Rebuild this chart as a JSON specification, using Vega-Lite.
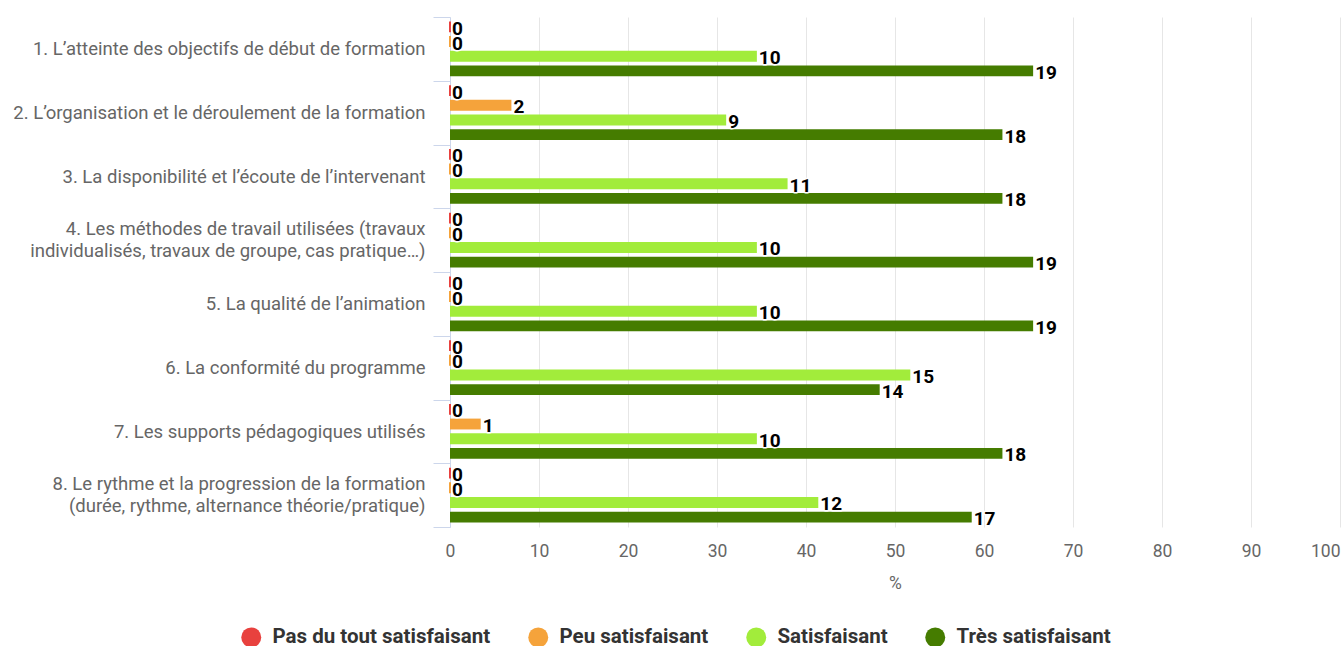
{
  "$schema": "https://vega.github.io/schema/vega-lite/v6.json",
  "autosize": "none",
  "width": 890,
  "height": 510,
  "padding": {"left": 450, "top": 17, "right": 2, "bottom": 119},
  "background": "#ffffff",
  "config": {
    "font": "Roboto",
    "view": {"stroke": null}
  },
  "data": {
    "values": [
      {"q": "1. L’atteinte des objectifs de début de formation", "series": "Pas du tout satisfaisant", "n": 0, "pct": 0},
      {"q": "1. L’atteinte des objectifs de début de formation", "series": "Peu satisfaisant", "n": 0, "pct": 0},
      {"q": "1. L’atteinte des objectifs de début de formation", "series": "Satisfaisant", "n": 10, "pct": 34.48},
      {"q": "1. L’atteinte des objectifs de début de formation", "series": "Très satisfaisant", "n": 19, "pct": 65.52},
      {"q": "2. L’organisation et le déroulement de la formation", "series": "Pas du tout satisfaisant", "n": 0, "pct": 0},
      {"q": "2. L’organisation et le déroulement de la formation", "series": "Peu satisfaisant", "n": 2, "pct": 6.9},
      {"q": "2. L’organisation et le déroulement de la formation", "series": "Satisfaisant", "n": 9, "pct": 31.03},
      {"q": "2. L’organisation et le déroulement de la formation", "series": "Très satisfaisant", "n": 18, "pct": 62.07},
      {"q": "3. La disponibilité et l’écoute de l’intervenant", "series": "Pas du tout satisfaisant", "n": 0, "pct": 0},
      {"q": "3. La disponibilité et l’écoute de l’intervenant", "series": "Peu satisfaisant", "n": 0, "pct": 0},
      {"q": "3. La disponibilité et l’écoute de l’intervenant", "series": "Satisfaisant", "n": 11, "pct": 37.93},
      {"q": "3. La disponibilité et l’écoute de l’intervenant", "series": "Très satisfaisant", "n": 18, "pct": 62.07},
      {"q": "4. Les méthodes de travail utilisées (travaux|individualisés, travaux de groupe, cas pratique…)", "series": "Pas du tout satisfaisant", "n": 0, "pct": 0},
      {"q": "4. Les méthodes de travail utilisées (travaux|individualisés, travaux de groupe, cas pratique…)", "series": "Peu satisfaisant", "n": 0, "pct": 0},
      {"q": "4. Les méthodes de travail utilisées (travaux|individualisés, travaux de groupe, cas pratique…)", "series": "Satisfaisant", "n": 10, "pct": 34.48},
      {"q": "4. Les méthodes de travail utilisées (travaux|individualisés, travaux de groupe, cas pratique…)", "series": "Très satisfaisant", "n": 19, "pct": 65.52},
      {"q": "5. La qualité de l’animation", "series": "Pas du tout satisfaisant", "n": 0, "pct": 0},
      {"q": "5. La qualité de l’animation", "series": "Peu satisfaisant", "n": 0, "pct": 0},
      {"q": "5. La qualité de l’animation", "series": "Satisfaisant", "n": 10, "pct": 34.48},
      {"q": "5. La qualité de l’animation", "series": "Très satisfaisant", "n": 19, "pct": 65.52},
      {"q": "6. La conformité du programme", "series": "Pas du tout satisfaisant", "n": 0, "pct": 0},
      {"q": "6. La conformité du programme", "series": "Peu satisfaisant", "n": 0, "pct": 0},
      {"q": "6. La conformité du programme", "series": "Satisfaisant", "n": 15, "pct": 51.72},
      {"q": "6. La conformité du programme", "series": "Très satisfaisant", "n": 14, "pct": 48.28},
      {"q": "7. Les supports pédagogiques utilisés", "series": "Pas du tout satisfaisant", "n": 0, "pct": 0},
      {"q": "7. Les supports pédagogiques utilisés", "series": "Peu satisfaisant", "n": 1, "pct": 3.45},
      {"q": "7. Les supports pédagogiques utilisés", "series": "Satisfaisant", "n": 10, "pct": 34.48},
      {"q": "7. Les supports pédagogiques utilisés", "series": "Très satisfaisant", "n": 18, "pct": 62.07},
      {"q": "8. Le rythme et la progression de la formation|(durée, rythme, alternance théorie/pratique)", "series": "Pas du tout satisfaisant", "n": 0, "pct": 0},
      {"q": "8. Le rythme et la progression de la formation|(durée, rythme, alternance théorie/pratique)", "series": "Peu satisfaisant", "n": 0, "pct": 0},
      {"q": "8. Le rythme et la progression de la formation|(durée, rythme, alternance théorie/pratique)", "series": "Satisfaisant", "n": 12, "pct": 41.38},
      {"q": "8. Le rythme et la progression de la formation|(durée, rythme, alternance théorie/pratique)", "series": "Très satisfaisant", "n": 17, "pct": 58.62}
    ]
  },
  "encoding": {
    "y": {
      "field": "q",
      "type": "nominal",
      "sort": null,
      "scale": {"paddingInner": 0, "paddingOuter": 0},
      "axis": {
        "title": null,
        "labelExpr": "isValid(datum.value) ? split(datum.value, '|') : ''",
        "labelBaseline": {"condition": {"test": "test(/[|]/, datum.value + '')", "value": "line-bottom"}, "value": "middle"},
        "labelFont": "Roboto",
        "labelFontSize": 18.5,
        "labelColor": "#666666",
        "labelLimit": 0,
        "labelLineHeight": 22,
        "labelPadding": 8,
        "tickBand": "extent",
        "tickSize": 17,
        "tickColor": "#ccd6eb",
        "domainColor": "#ccd6eb",
        "grid": false
      }
    },
    "yOffset": {
      "field": "series",
      "type": "nominal",
      "sort": ["Pas du tout satisfaisant", "Peu satisfaisant", "Satisfaisant", "Très satisfaisant"],
      "scale": {"paddingInner": 0.26, "paddingOuter": 0.3}
    },
    "x": {
      "field": "pct",
      "type": "quantitative",
      "scale": {"domain": [0, 100], "nice": false},
      "axis": {
        "title": "%",
        "titleFont": "Roboto",
        "titleFontSize": 17.5,
        "titleFontWeight": "normal",
        "titleColor": "#666666",
        "titlePadding": 15,
        "values": [0, 10, 20, 30, 40, 50, 60, 70, 80, 90, 100],
        "labelFont": "Roboto",
        "labelFontSize": 17.5,
        "labelColor": "#666666",
        "labelPadding": 15,
        "labelFlush": false,
        "labelAlign": {"condition": {"test": "datum.value == 100", "value": "right"}, "value": "center"},
        "ticks": false,
        "domain": false,
        "grid": true,
        "gridColor": "#e6e6e6",
        "gridWidth": 1
      }
    }
  },
  "layer": [
    {
      "mark": {"type": "bar"},
      "encoding": {
        "color": {
          "field": "series",
          "type": "nominal",
          "sort": ["Pas du tout satisfaisant", "Peu satisfaisant", "Satisfaisant", "Très satisfaisant"],
          "scale": {
            "domain": ["Pas du tout satisfaisant", "Peu satisfaisant", "Satisfaisant", "Très satisfaisant"],
            "range": ["#e8413e", "#f5a33b", "#a2ec3b", "#457c00"]
          },
          "legend": {
            "title": null,
            "orient": "none",
            "direction": "horizontal",
            "legendX": -209,
            "legendY": 610,
            "symbolType": "circle",
            "symbolSize": 400,
            "symbolStrokeWidth": 0,
            "symbolOpacity": 1,
            "labelFont": "Roboto",
            "labelFontSize": 20.5,
            "labelFontWeight": "bold",
            "labelColor": "#333333",
            "labelOffset": 11,
            "labelLimit": 0,
            "columnPadding": 37,
            "padding": 0
          }
        },
        "stroke": {
          "field": "series",
          "type": "nominal",
          "scale": {
            "domain": ["Pas du tout satisfaisant", "Peu satisfaisant", "Satisfaisant", "Très satisfaisant"],
            "range": ["#e8413e", "#f5a33b", "#a2ec3b", "#457c00"]
          },
          "legend": null
        },
        "strokeWidth": {
          "condition": {"test": "datum.pct === 0", "value": 2},
          "value": 0
        }
      }
    },
    {
      "mark": {
        "type": "text",
        "align": "left",
        "baseline": "middle",
        "dx": 2,
        "dy": 2,
        "font": "Roboto",
        "fontSize": 19,
        "fontWeight": "bold",
        "fill": "#ffffff",
        "stroke": "#ffffff",
        "strokeWidth": 3,
        "strokeJoin": "round"
      },
      "encoding": {"text": {"field": "n", "type": "quantitative"}}
    },
    {
      "mark": {
        "type": "text",
        "align": "left",
        "baseline": "middle",
        "dx": 2,
        "dy": 2,
        "font": "Roboto",
        "fontSize": 19,
        "fontWeight": "bold",
        "fill": "#000000"
      },
      "encoding": {"text": {"field": "n", "type": "quantitative"}}
    }
  ]
}
